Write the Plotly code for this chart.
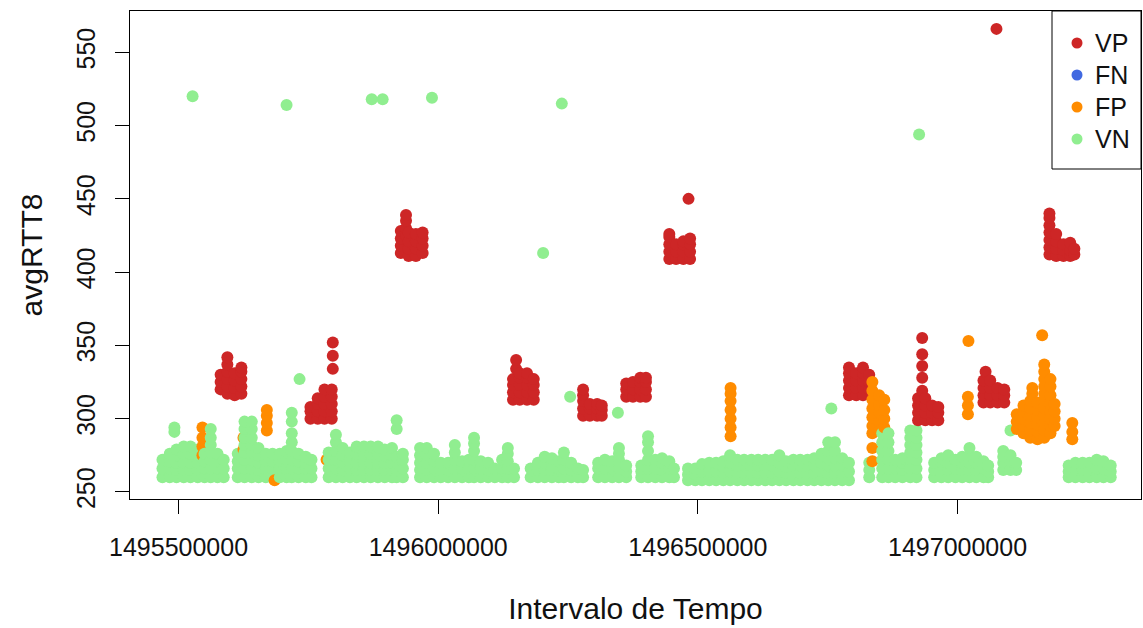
import plotly.graph_objects as go

# Observations per class: (timestamp, RTT readings taken in that interval)
vp_obs = [
    (1495581000, (320, 325, 330)),
    (1495594000, (317, 322, 327, 332, 337, 342)),
    (1495608000, (316, 321, 326, 331)),
    (1495621000, (317, 322, 327, 332, 335)),
    (1495754000, (300, 305, 308)),
    (1495768000, (300, 305, 310, 314)),
    (1495781000, (300, 305, 310, 315, 320)),
    (1495795000, (300, 305, 310, 315, 320)),
    (1495797000, (334, 343, 352)),
    (1495928000, (413, 418, 423, 428)),
    (1495938000, (425, 430, 435, 439)),
    (1495943000, (411, 416, 421, 427)),
    (1495957000, (411, 416, 421, 426)),
    (1495970000, (413, 418, 423, 427)),
    (1496144000, (313, 318, 323, 327)),
    (1496150000, (334, 340)),
    (1496157000, (313, 318, 323, 328, 331)),
    (1496171000, (313, 318, 323, 328, 331)),
    (1496184000, (313, 318, 323, 327)),
    (1496279000, (302, 307, 312, 316, 320)),
    (1496292000, (302, 307, 310)),
    (1496306000, (302, 307, 310)),
    (1496315000, (302, 306, 309)),
    (1496362000, (315, 320, 324)),
    (1496375000, (315, 320, 325)),
    (1496389000, (315, 320, 325, 328)),
    (1496400000, (315, 320, 325, 328)),
    (1496445000, (409, 414, 419, 424, 426)),
    (1496458000, (409, 414, 419)),
    (1496472000, (409, 414, 419, 421)),
    (1496482000, (450,)),
    (1496485000, (409, 414, 419, 423)),
    (1496791000, (316, 321, 326, 331, 335)),
    (1496805000, (316, 321, 326, 331)),
    (1496818000, (316, 321, 326, 331, 335)),
    (1496830000, (320, 325, 330)),
    (1496924000, (299, 304, 309, 314)),
    (1496932000, (319, 328, 336, 344, 355)),
    (1496938000, (299, 304, 309, 314)),
    (1496951000, (299, 304, 309)),
    (1496963000, (299, 304, 308)),
    (1497050000, (311, 316, 321, 326)),
    (1497054000, (332,)),
    (1497063000, (311, 316, 321, 326)),
    (1497075000, (566,)),
    (1497077000, (311, 316, 321)),
    (1497090000, (311, 316, 320)),
    (1497177000, (412, 417, 422, 427, 432, 437, 440)),
    (1497190000, (411, 416, 421, 426)),
    (1497204000, (411, 415, 419)),
    (1497217000, (411, 415, 420)),
    (1497225000, (412, 416)),
]

fn_obs = []

fp_obs = [
    (1495546000, (275, 281, 287, 294)),
    (1495625000, (279, 287)),
    (1495670000, (292, 297, 302, 306)),
    (1495685000, (258,)),
    (1495785000, (272,)),
    (1496563000, (288, 294, 300, 306, 312, 317, 321)),
    (1496836000, (271, 280, 290, 295, 301, 307, 313, 319, 325)),
    (1496849000, (292, 298, 304, 310, 316)),
    (1496859000, (294, 300, 306, 313)),
    (1497020000, (303, 309, 315)),
    (1497021000, (353,)),
    (1497114000, (293, 298, 303)),
    (1497127000, (290, 295, 300, 305, 309)),
    (1497140000, (287, 292, 297, 302, 307, 312)),
    (1497144000, (317, 321)),
    (1497154000, (286, 291, 296, 301, 306, 311)),
    (1497163000, (357,)),
    (1497167000, (287, 292, 297, 302, 307, 312, 317, 322, 327, 332, 337)),
    (1497179000, (290, 295, 300, 305, 310, 316, 322, 327)),
    (1497187000, (295, 300, 305, 310)),
    (1497221000, (286, 291, 297)),
]

vn_obs = [
    (1495469000, (260, 266, 272)),
    (1495483000, (260, 266, 271, 276)),
    (1495492000, (291, 294)),
    (1495496000, (260, 265, 270, 275, 279)),
    (1495510000, (260, 265, 270, 276, 281)),
    (1495523000, (260, 265, 270, 276, 281)),
    (1495527000, (520,)),
    (1495537000, (260, 265, 270, 275, 279)),
    (1495550000, (260, 266, 271, 276)),
    (1495562000, (260, 266, 272, 277, 282, 287, 293)),
    (1495575000, (260, 266, 271, 276)),
    (1495587000, (260, 266, 272)),
    (1495614000, (260, 266, 271, 276)),
    (1495627000, (260, 266, 272, 277, 282, 287, 293, 298)),
    (1495641000, (260, 266, 272, 277, 282, 287, 293, 298)),
    (1495654000, (260, 265, 270, 275, 280)),
    (1495668000, (260, 266, 271, 276)),
    (1495681000, (260, 266, 271, 276)),
    (1495695000, (260, 266, 271, 276)),
    (1495708000, (260, 266, 272, 278, 514)),
    (1495718000, (260, 266, 272, 278, 284, 290, 298, 304)),
    (1495731000, (260, 266, 271, 276)),
    (1495733000, (327,)),
    (1495745000, (260, 266, 270, 274)),
    (1495756000, (260, 266, 272)),
    (1495789000, (260, 266, 272, 277)),
    (1495803000, (260, 266, 272, 278, 284, 289)),
    (1495816000, (260, 265, 270, 275, 280)),
    (1495830000, (260, 266, 272, 277)),
    (1495843000, (260, 265, 270, 276, 281)),
    (1495857000, (260, 265, 270, 276, 281)),
    (1495870000, (260, 265, 270, 276, 281)),
    (1495872000, (518,)),
    (1495884000, (260, 265, 270, 276, 281)),
    (1495893000, (518,)),
    (1495897000, (260, 265, 270, 275, 279)),
    (1495911000, (260, 265, 270, 275, 280)),
    (1495920000, (260, 265, 270, 274, 293, 299)),
    (1495932000, (260, 266, 272, 276)),
    (1495965000, (260, 265, 270, 275, 280)),
    (1495978000, (260, 265, 270, 275, 280)),
    (1495988000, (519,)),
    (1495992000, (260, 266, 271, 276)),
    (1496005000, (260, 265, 270)),
    (1496019000, (260, 265, 270)),
    (1496032000, (260, 266, 272, 277, 282)),
    (1496046000, (260, 266, 271)),
    (1496059000, (260, 266, 272)),
    (1496069000, (260, 266, 272, 278, 283, 287)),
    (1496082000, (260, 266, 271)),
    (1496096000, (260, 265, 270)),
    (1496109000, (260, 266)),
    (1496123000, (260, 266, 272)),
    (1496134000, (260, 266, 271, 276, 280)),
    (1496146000, (260, 266)),
    (1496178000, (260, 266)),
    (1496192000, (260, 265, 270)),
    (1496202000, (413,)),
    (1496205000, (260, 265, 270, 274)),
    (1496219000, (260, 265, 270, 273)),
    (1496232000, (260, 266, 271)),
    (1496238000, (515,)),
    (1496242000, (260, 266, 272, 277)),
    (1496254000, (315,)),
    (1496256000, (260, 265, 270)),
    (1496269000, (260, 266)),
    (1496279000, (260, 265)),
    (1496308000, (260, 266, 270)),
    (1496321000, (260, 266, 272)),
    (1496335000, (260, 266, 271)),
    (1496346000, (304,)),
    (1496348000, (260, 266, 272, 276, 280)),
    (1496362000, (260, 264, 268)),
    (1496391000, (260, 264, 268)),
    (1496404000, (260, 266, 272, 278, 284, 288)),
    (1496418000, (260, 266, 272)),
    (1496431000, (260, 265, 270, 273)),
    (1496445000, (260, 266, 271)),
    (1496454000, (260, 266)),
    (1496481000, (258, 262, 266)),
    (1496495000, (258, 262, 266)),
    (1496508000, (258, 264, 269)),
    (1496522000, (258, 264, 270)),
    (1496535000, (258, 264, 270)),
    (1496549000, (258, 263, 267, 271)),
    (1496562000, (258, 264, 270, 275)),
    (1496576000, (258, 263, 268, 272)),
    (1496589000, (258, 263, 268, 272)),
    (1496603000, (258, 263, 268, 272)),
    (1496616000, (258, 263, 268, 272)),
    (1496630000, (258, 263, 268, 272)),
    (1496643000, (258, 263, 268, 272)),
    (1496657000, (258, 264, 270, 275)),
    (1496670000, (258, 263, 267, 271)),
    (1496684000, (258, 263, 268, 272)),
    (1496697000, (258, 263, 268, 272)),
    (1496711000, (258, 263, 268, 272)),
    (1496724000, (258, 263, 268, 273)),
    (1496738000, (258, 264, 270, 276)),
    (1496751000, (258, 263, 268, 273, 278, 284)),
    (1496757000, (307,)),
    (1496764000, (258, 263, 268, 273, 278, 284)),
    (1496778000, (258, 263, 268, 273)),
    (1496791000, (258, 264, 270)),
    (1496830000, (260, 265, 270)),
    (1496855000, (260, 266, 272, 278, 284, 290)),
    (1496867000, (260, 266, 272, 278, 284, 290)),
    (1496880000, (260, 266, 272)),
    (1496894000, (260, 265, 270, 273)),
    (1496909000, (260, 266, 272, 277, 282, 287, 292)),
    (1496921000, (260, 266, 272, 277, 282, 287, 292)),
    (1496926000, (494,)),
    (1496955000, (260, 265, 270)),
    (1496969000, (260, 265, 270, 273)),
    (1496982000, (260, 265, 270, 275)),
    (1496996000, (260, 266, 272)),
    (1497009000, (260, 265, 270, 274)),
    (1497023000, (260, 265, 270, 275, 280)),
    (1497036000, (260, 265, 270, 274)),
    (1497050000, (260, 266, 271)),
    (1497059000, (260, 264, 268)),
    (1497088000, (265, 270, 274, 278)),
    (1497102000, (265, 271, 275, 292)),
    (1497113000, (265, 270)),
    (1497214000, (260, 264, 268)),
    (1497227000, (260, 265, 270)),
    (1497241000, (260, 265, 270)),
    (1497254000, (260, 265, 270)),
    (1497268000, (260, 266, 272)),
    (1497281000, (260, 266, 271)),
    (1497295000, (260, 264, 268)),
]

class_names = ["VP", "FN", "FP", "VN"]
class_colors = ["#CD2626", "#4169E1", "#FF8C00", "#90EE90"]

x_tickvals = [1495500000, 1496000000, 1496500000, 1497000000]
x_ticktext = ["1495500000", "1496000000", "1496500000", "1497000000"]
y_tickvals = [250, 300, 350, 400, 450, 500, 550]

# Flatten every class into one list and draw it in time order,
# so later samples paint over earlier ones.
points = []
for obs, color in ((vn_obs, class_colors[3]), (fp_obs, class_colors[2]),
                   (fn_obs, class_colors[1]), (vp_obs, class_colors[0])):
    for t, readings in obs:
        for r in readings:
            points.append((t, r, color))
points.sort(key=lambda p: p[0])

fig = go.Figure()
fig.add_trace(go.Scatter(
    x=[p[0] for p in points],
    y=[p[1] for p in points],
    mode="markers",
    marker=dict(size=12, color=[p[2] for p in points], line=dict(width=0)),
    showlegend=False,
    hoverinfo="x+y",
))

# Plot-area geometry in pixels (figure 1143 x 628)
PLOT_L, PLOT_R, PLOT_T, PLOT_B = 130, 1141, 11, 499


def paper_x(px):
    return (px - PLOT_L) / (PLOT_R - PLOT_L)


def paper_y(py):
    return (PLOT_B - py) / (PLOT_B - PLOT_T)


# Legend box in the top-right corner, drawn in the style of base R's legend()
shapes = [dict(
    type="rect", xref="paper", yref="paper",
    x0=paper_x(1052), x1=1.0, y0=paper_y(169), y1=1.0,
    line=dict(color="black", width=1), fillcolor="white", layer="above",
)]
annotations = []
legend_rows = [43, 75, 107, 139]
for name, color, row in zip(class_names, class_colors, legend_rows):
    shapes.append(dict(
        type="circle", xref="paper", yref="paper",
        xsizemode="pixel", ysizemode="pixel",
        xanchor=paper_x(1077), yanchor=paper_y(row),
        x0=-5.5, x1=5.5, y0=-5.5, y1=5.5,
        fillcolor=color, line=dict(width=0), layer="above",
    ))
    annotations.append(dict(
        xref="paper", yref="paper", x=paper_x(1093), y=paper_y(row),
        xanchor="left", yanchor="middle", text=name, showarrow=False,
        font=dict(size=25),
    ))

axis_common = dict(
    showline=True, linecolor="black", linewidth=1, mirror=True,
    ticks="outside", ticklen=14, tickcolor="black", tickwidth=1,
    showgrid=False, zeroline=False, automargin=False,
)

fig.update_layout(
    width=1143, height=628,
    margin=dict(l=PLOT_L, r=1143 - PLOT_R, t=PLOT_T, b=628 - PLOT_B),
    paper_bgcolor="white", plot_bgcolor="white",
    font=dict(family="Liberation Sans, Arial, sans-serif", size=25, color="#111111"),
    showlegend=False,
    xaxis=dict(
        range=[1495406500, 1497353300],
        tickvals=x_tickvals, ticktext=x_ticktext,
        ticklabelstandoff=12,
        title=dict(text="Intervalo de Tempo", standoff=37),
        **axis_common,
    ),
    yaxis=dict(
        range=[245.2, 578.2],
        tickvals=y_tickvals, tickangle=-90,
        ticklabelstandoff=10,
        title=dict(text="avgRTT8", standoff=20),
        **axis_common,
    ),
    shapes=shapes,
    annotations=annotations,
)

fig.write_html("out.html", config={"displayModeBar": False})
